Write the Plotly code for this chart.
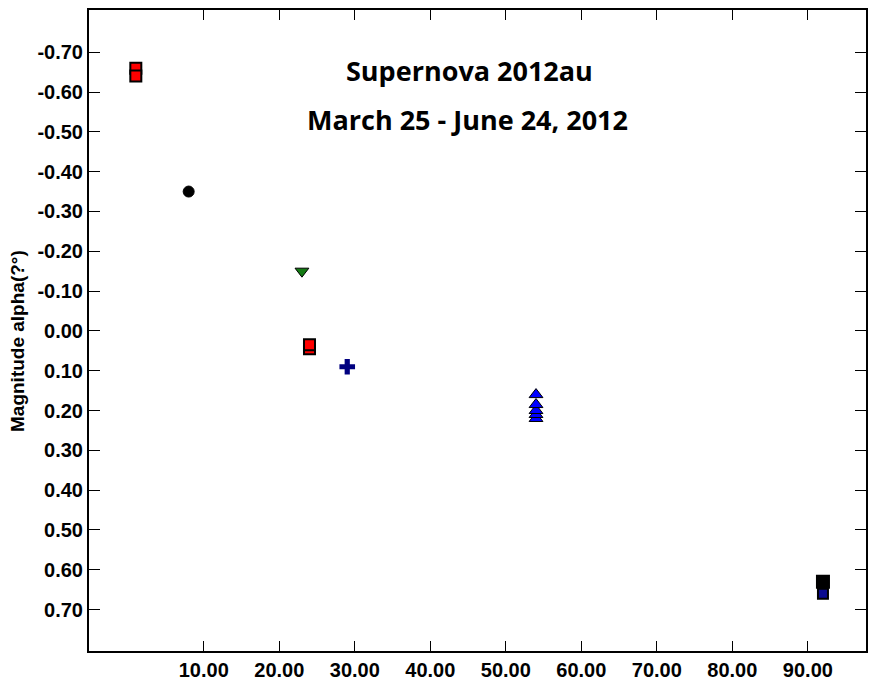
import plotly.graph_objects as go

# Data (days since start, magnitude alpha)
red_x = [1, 1, 24, 24]
red_y = [-0.66, -0.64, 0.045, 0.035]
black_circle_x = [8]
black_circle_y = [-0.35]
green_x = [23]
green_y = [-0.15]
navy_cross_x = [29]
navy_cross_y = [0.09]
blue_tri_x = [54, 54, 54, 54, 54]
blue_tri_y = [0.22, 0.21, 0.20, 0.185, 0.16]
black_sq_x = [92]
black_sq_y = [0.63]
navy_sq_x = [92]
navy_sq_y = [0.66]

xticks = [10, 20, 30, 40, 50, 60, 70, 80, 90]
yticks = [-0.7, -0.6, -0.5, -0.4, -0.3, -0.2, -0.1, 0.0, 0.1, 0.2, 0.3, 0.4, 0.5, 0.6, 0.7]

title1 = "Supernova 2012au"
title2 = "March 25 - June 24, 2012"
ytitle = "Magnitude alpha(?°)"

fig = go.Figure()
fig.add_trace(go.Scatter(x=red_x, y=red_y, mode="markers",
                         marker=dict(symbol="square", size=11, color="#ff0000",
                                     line=dict(color="black", width=2))))
fig.add_trace(go.Scatter(x=black_circle_x, y=black_circle_y, mode="markers",
                         marker=dict(symbol="circle", size=11, color="black",
                                     line=dict(color="black", width=1))))
fig.add_trace(go.Scatter(x=green_x, y=green_y, mode="markers",
                         marker=dict(symbol="triangle-down", size=12, color="#137a13",
                                     line=dict(color="black", width=1))))
fig.add_trace(go.Scatter(x=navy_cross_x, y=navy_cross_y, mode="markers",
                         marker=dict(symbol="cross", size=13, color="#000080",
                                     line=dict(color="#000080", width=0))))
fig.add_trace(go.Scatter(x=blue_tri_x, y=blue_tri_y, mode="markers",
                         marker=dict(symbol="triangle-up", size=12, color="#0000ff",
                                     line=dict(color="black", width=1))))
fig.add_trace(go.Scatter(x=black_sq_x, y=black_sq_y, mode="markers",
                         marker=dict(symbol="square", size=12, color="black",
                                     line=dict(color="black", width=2))))
fig.add_trace(go.Scatter(x=navy_sq_x, y=navy_sq_y, mode="markers",
                         marker=dict(symbol="square", size=10, color="#0a0a90",
                                     line=dict(color="black", width=2))))

tickfont = dict(family="Liberation Sans, Arial, sans-serif", size=20, color="black", weight="bold")

# the page body adds an 8px offset; size the figure so it fits the 880x681 window
fig.update_layout(
    width=872, height=673,
    margin=dict(l=81, r=14, t=2, b=30),
    paper_bgcolor="white", plot_bgcolor="white",
    showlegend=False,
    xaxis=dict(range=[-5.2, 97.7], tickvals=xticks,
               ticktext=[f"{v:.2f}" for v in xticks],
               ticks="inside", ticklen=10, tickwidth=1, tickcolor="black",
               showline=True, linecolor="black", linewidth=2, mirror="ticks",
               showgrid=False, zeroline=False, tickfont=tickfont, automargin=False),
    yaxis=dict(range=[0.804, -0.806], tickvals=yticks,
               ticktext=[f"{v:.2f}" for v in yticks],
               ticks="inside", ticklen=11, tickwidth=1, tickcolor="black",
               showline=True, linecolor="black", linewidth=2, mirror="ticks",
               showgrid=False, zeroline=False, tickfont=tickfont, automargin=False),
    annotations=[
        dict(text=title1, xref="paper", yref="paper", x=(469 - 89) / 777, y=(651 - 70) / 641,
             xanchor="center", yanchor="middle", showarrow=False,
             font=dict(family="Open Sans, sans-serif", size=27, color="black", weight="bold")),
        dict(text=title2, xref="paper", yref="paper", x=(467 - 89) / 777, y=(651 - 120) / 641,
             xanchor="center", yanchor="middle", showarrow=False,
             font=dict(family="Open Sans, sans-serif", size=27, color="black", weight="bold")),
        dict(text=ytitle, xref="paper", yref="paper", x=(17 - 89) / 777, y=(651 - 341) / 641,
             xanchor="center", yanchor="middle", textangle=-90, showarrow=False,
             font=dict(family="Liberation Sans, Arial, sans-serif", size=19, color="black", weight="bold")),
    ],
)

fig.write_html("out.html")
